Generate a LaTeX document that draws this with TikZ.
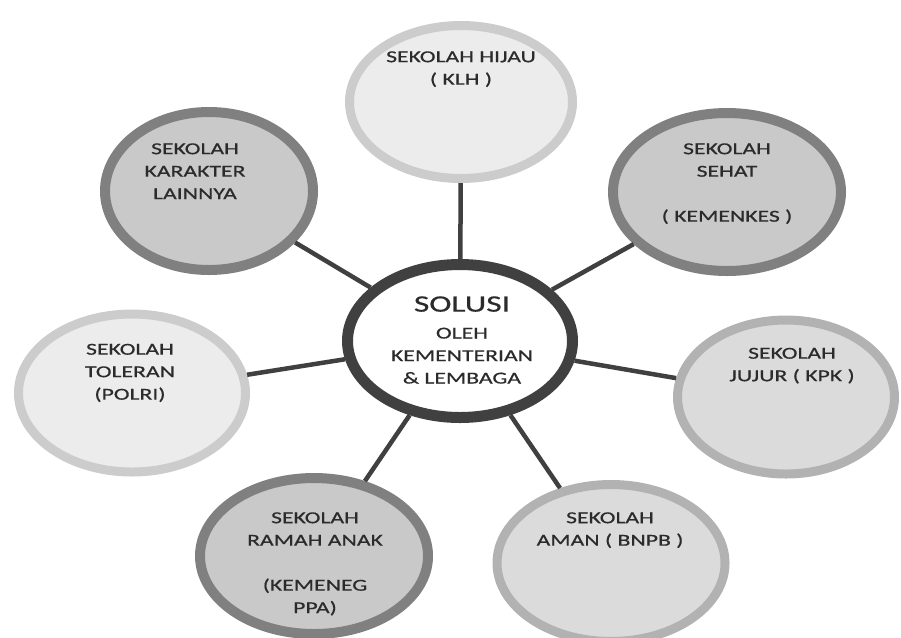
\documentclass[tikz,border=0pt]{standalone}
\usepackage{fontspec}
\newfontfamily\bubblefont[FakeStretch=1.42,FakeBold=0.6]{Carlito}
\usetikzlibrary{positioning,calc,shapes.geometric}
\definecolor{figtext}{gray}{0.17}
\definecolor{figdark}{gray}{0.25}
\definecolor{lightfill}{gray}{0.925}
\definecolor{lightline}{gray}{0.8}
\definecolor{midfill}{gray}{0.86}
\definecolor{midline}{gray}{0.7}
\definecolor{darkfill}{gray}{0.79}
\definecolor{darkline}{gray}{0.5}
\tikzset{
  fig/.style={font=\bubblefont\fontsize{9.5}{12.8}\selectfont,text=figtext},
  bubble/.style={ellipse,line width=1.8mm,minimum width=45.4mm,minimum height=31.4mm,
                 inner sep=0pt},
  lightbubble/.style={bubble,draw=lightline,fill=lightfill},
  midbubble/.style={bubble,draw=midline,fill=midfill},
  darkbubble/.style={bubble,line width=2mm,draw=darkline,fill=darkfill},
  hub/.style={bubble,line width=2.2mm,draw=figdark,fill=white},
  link/.style={draw=figdark,line width=0.9mm},
  lbl/.style={align=center,inner sep=0pt,anchor=north},
}

\begin{document}
\begin{tikzpicture}[fig,x=0.2mm,y=-0.2mm]
\useasboundingbox (0,0) rectangle (901,637);

\node[hub,minimum width=45mm,minimum height=30.6mm] (solusi) at (460,341) {};
\node[lightbubble,minimum width=44.6mm,minimum height=30.6mm] (hijau) at (461,102) {};
\node[darkbubble,minimum width=41.6mm,minimum height=31.6mm] (karakter) at (209,191) {};
\node[darkbubble,minimum width=45.6mm,minimum height=31.6mm] (sehat) at (727,192) {};
\node[lightbubble,minimum height=31.6mm] (toleran) at (132,393) {};
\node[midbubble,minimum width=43.4mm,minimum height=30.8mm] (jujur) at (786,397) {};
\node[midbubble,minimum width=45.6mm] (aman) at (611,563) {};
\node[darkbubble,minimum width=45.6mm,minimum height=31.2mm] (ramah) at (314,556) {};

\foreach \b in {hijau,karakter,sehat,toleran,jujur,aman,ramah}
  \draw[link] (solusi) -- (\b);

\node[lbl] (solusi-t) at ($(solusi.north)+(2,37)$)
     {{\fontsize{13.4}{16}\selectfont SOLUSI}\\[2.5pt]OLEH\\KEMENTERIAN\\\&{} LEMBAGA};
\node[lbl] (hijau-t) at ($(hijau.north)+(0,30)$) {SEKOLAH HIJAU\\( KLH )};
\node[lbl] (karakter-t) at ($(karakter.north)+(-14,36)$) {SEKOLAH\\KARAKTER\\LAINNYA};
\node[lbl] (sehat-t) at ($(sehat.north)+(0,35)$) {SEKOLAH\\SEHAT\\[12.8pt]( KEMENKES )};
\node[lbl] (toleran-t) at ($(toleran.north)+(-2,34)$) {SEKOLAH\\TOLERAN\\(POLRI)};
\node[lbl] (jujur-t) at ($(jujur.north)+(6,32)$) {SEKOLAH\\JUJUR ( KPK )};
\node[lbl] (aman-t) at ($(aman.north)+(-1,32)$) {SEKOLAH\\AMAN ( BNPB )};
\node[lbl] (ramah-t) at ($(ramah.north)+(1,39)$) {SEKOLAH\\RAMAH ANAK\\[12.8pt](KEMENEG\\PPA)};

\end{tikzpicture}
\end{document}
